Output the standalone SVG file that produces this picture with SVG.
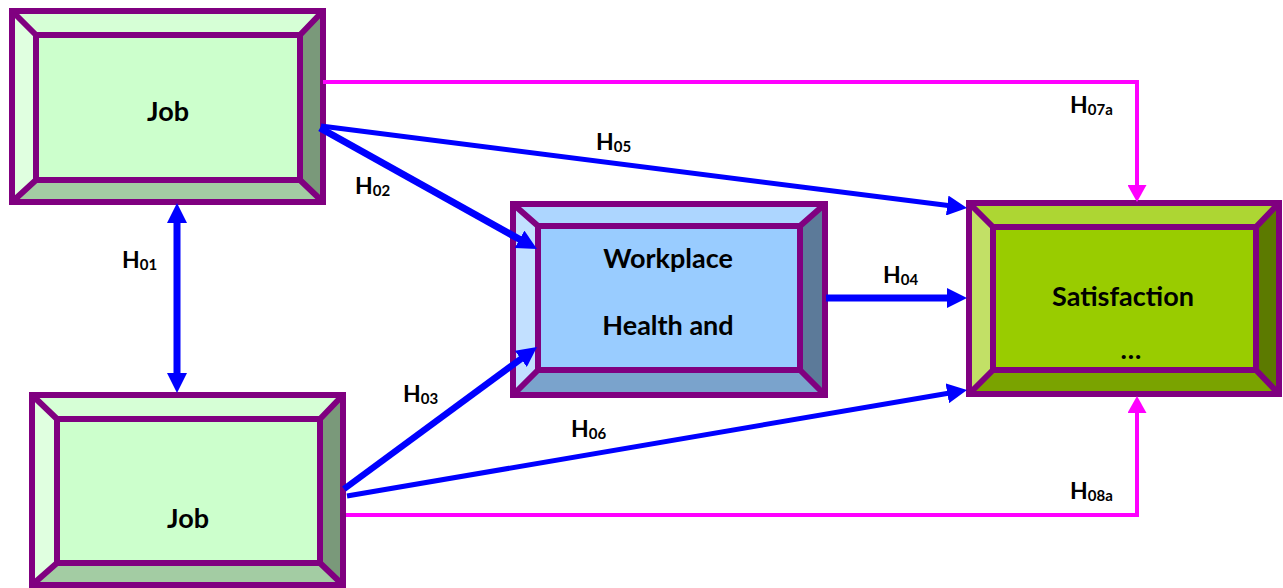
<svg xmlns="http://www.w3.org/2000/svg" width="1283" height="588" viewBox="0 0 1283 588">
  <style>
    .edge { fill: none; stroke: #800080; stroke-width: 6; stroke-linejoin: miter; }
    .label { font-family: Lato, "Liberation Sans", sans-serif; font-weight: bold; font-size: 27px; fill: #000; text-anchor: middle; }
    .hyp { font-family: Lato, "Liberation Sans", sans-serif; font-weight: bold; font-size: 23px; fill: #000; }
    .sub { font-size: 15px; }
    .blue { fill: none; stroke: #0000FF; }
    .pink { fill: none; stroke: #FF00FF; stroke-width: 4; }
  </style>
  <defs>
    <marker id="ahBlue" markerUnits="userSpaceOnUse" markerWidth="20" markerHeight="20" viewBox="0 0 20 20" refX="1" refY="10" orient="auto-start-reverse">
      <path d="M0,0 L20,10 L0,20 z" fill="#0000FF"/>
    </marker>
    <marker id="ahPink" markerUnits="userSpaceOnUse" markerWidth="17" markerHeight="19" viewBox="0 0 17 19" refX="1" refY="9.5" orient="auto">
      <path d="M0,0 L17,9.5 L0,19 z" fill="#FF00FF"/>
    </marker>
  </defs>

  <!-- Job (upper) -->
  <g id="job-top">
    <polygon points="12,11 323,11 300,35 36,35" fill="#D6FFD6"/>
    <polygon points="323,11 323,202 300,180 300,35" fill="#7A997A"/>
    <polygon points="12,202 323,202 300,180 36,180" fill="#A3CCA3"/>
    <polygon points="12,11 36,35 36,180 12,202" fill="#E0FFE0"/>
    <rect x="36" y="35" width="264" height="145" fill="#CCFFCC"/>
    <path class="edge" d="M12,11 H323 V202 H12 Z M36,35 H300 V180 H36 Z M12,11 L36,35 M323,11 L300,35 M323,202 L300,180 M12,202 L36,180"/>
    <text class="label" x="168" y="121">Job</text>
  </g>

  <!-- Job (lower) -->
  <g id="job-bottom">
    <polygon points="32,395 343,395 320,419 57,419" fill="#D6FFD6"/>
    <polygon points="343,395 343,585 320,563 320,419" fill="#7A997A"/>
    <polygon points="32,585 343,585 320,563 57,563" fill="#A3CCA3"/>
    <polygon points="32,395 57,419 57,563 32,585" fill="#E0FFE0"/>
    <rect x="57" y="419" width="263" height="144" fill="#CCFFCC"/>
    <path class="edge" d="M32,395 H343 V585 H32 Z M57,419 H320 V563 H57 Z M32,395 L57,419 M343,395 L320,419 M343,585 L320,563 M32,585 L57,563"/>
    <text class="label" x="188" y="528">Job</text>
  </g>

  <!-- Workplace Health and ... -->
  <g id="workplace">
    <polygon points="513,204 825,204 800,226 538,226" fill="#ADD6FF"/>
    <polygon points="825,204 825,395 800,370 800,226" fill="#5C7A99"/>
    <polygon points="513,395 825,395 800,370 538,370" fill="#7AA3CC"/>
    <polygon points="513,204 538,226 538,370 513,395" fill="#C2E0FF"/>
    <rect x="538" y="226" width="262" height="144" fill="#99CCFF"/>
    <path class="edge" d="M513,204 H825 V395 H513 Z M538,226 H800 V370 H538 Z M513,204 L538,226 M825,204 L800,226 M825,395 L800,370 M513,395 L538,370"/>
    <text class="label" x="668" y="268">Workplace</text>
    <text class="label" x="668" y="335">Health and</text>
  </g>

  <!-- Satisfaction -->
  <g id="satisfaction">
    <polygon points="969,203 1279,203 1256,227 993,227" fill="#ADD633"/>
    <polygon points="1279,203 1279,394 1256,370 1256,227" fill="#5C7A00"/>
    <polygon points="969,394 1279,394 1256,370 993,370" fill="#7AA300"/>
    <polygon points="969,203 993,227 993,370 969,394" fill="#C2E066"/>
    <rect x="993" y="227" width="263" height="143" fill="#99CC00"/>
    <path class="edge" d="M969,203 H1279 V394 H969 Z M993,227 H1256 V370 H993 Z M969,203 L993,227 M1279,203 L1256,227 M1279,394 L1256,370 M969,394 L993,370"/>
    <text class="label" x="1123" y="306">Satisfaction</text>
    <text class="label" x="1131" y="359">…</text>
  </g>

  <!-- Connectors -->
  <g id="connectors">
    <path class="pink" d="M323,82 H1137 V186" marker-end="url(#ahPink)"/>
    <path class="pink" d="M346,515 H1137 V412" marker-end="url(#ahPink)"/>
    <path class="blue" stroke-width="7" d="M177,222 V374" marker-start="url(#ahBlue)" marker-end="url(#ahBlue)"/>
    <path class="blue" stroke-width="7" d="M320,128 L520.4,239.8" marker-end="url(#ahBlue)"/>
    <path class="blue" stroke-width="5" d="M321,126 L948.2,205.6" marker-end="url(#ahBlue)"/>
    <path class="blue" stroke-width="6.5" d="M344,489 L521.7,358.3" marker-end="url(#ahBlue)"/>
    <path class="blue" stroke-width="5" d="M347,496 L948.3,393.2" marker-end="url(#ahBlue)"/>
    <path class="blue" stroke-width="7" d="M826,298 H948" marker-end="url(#ahBlue)"/>
  </g>

  <!-- Hypothesis labels -->
  <g id="hypotheses">
    <text class="hyp" x="122" y="268">H<tspan class="sub" dy="2">01</tspan></text>
    <text class="hyp" x="355" y="194">H<tspan class="sub" dy="2">02</tspan></text>
    <text class="hyp" x="403" y="402">H<tspan class="sub" dy="2">03</tspan></text>
    <text class="hyp" x="883" y="283">H<tspan class="sub" dy="2">04</tspan></text>
    <text class="hyp" x="596" y="150">H<tspan class="sub" dy="2">05</tspan></text>
    <text class="hyp" x="571" y="437">H<tspan class="sub" dy="2">06</tspan></text>
    <text class="hyp" x="1070" y="113">H<tspan class="sub" dy="2">07a</tspan></text>
    <text class="hyp" x="1070" y="499">H<tspan class="sub" dy="2">08a</tspan></text>
  </g>
</svg>
